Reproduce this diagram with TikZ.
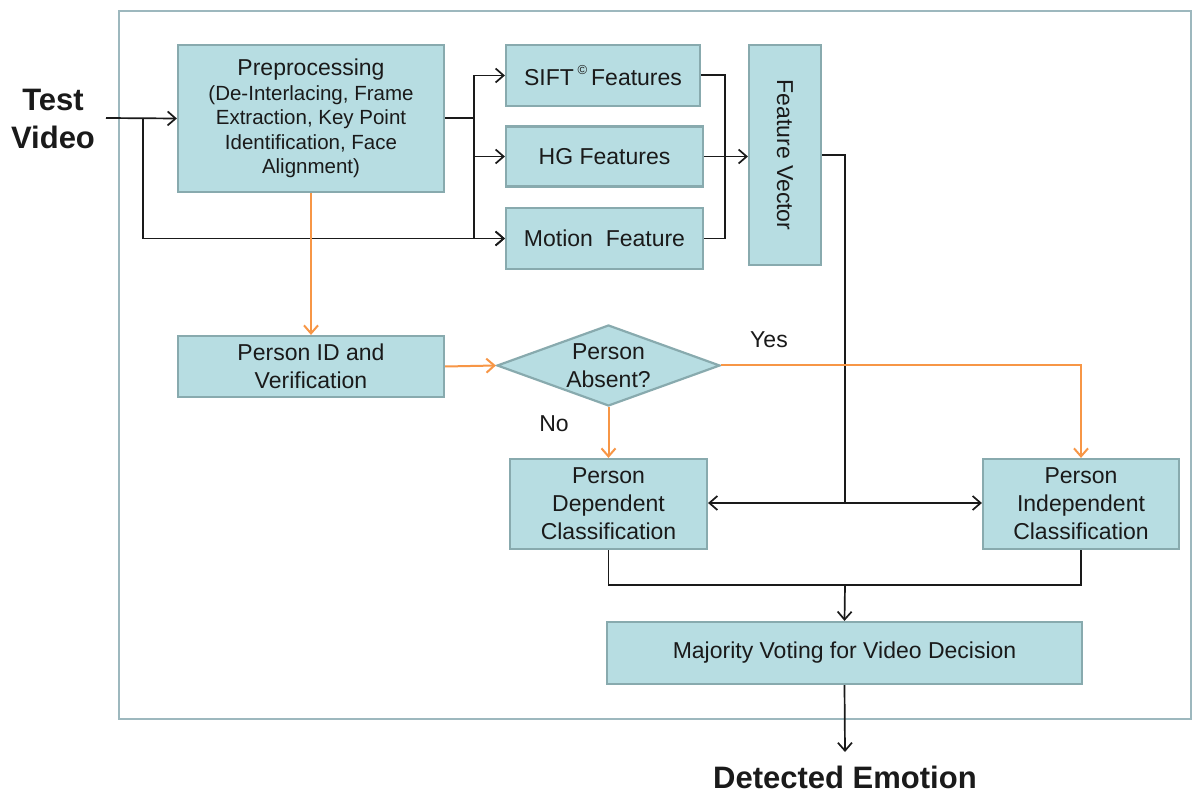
\documentclass[tikz,border=0pt]{standalone}
\usepackage{fontspec}
\setmainfont{Liberation Sans}
\usetikzlibrary{arrows.meta,shapes.geometric}
\definecolor{boxfill}{HTML}{B7DDE2}
\definecolor{boxline}{HTML}{88AAAE}
\definecolor{frameline}{HTML}{9DB8BE}
\definecolor{orng}{HTML}{F79646}
\definecolor{ink}{HTML}{1A1A1A}
\tikzset{
  blk/.style={draw=boxline, line width=2.2pt, fill=boxfill, inner sep=0pt, align=center, text=ink, font=\fontsize{23}{28}\selectfont},
  conn/.style={draw=ink, line width=1.7pt, -{Straight Barb[length=8pt,width=14pt,line width=1.7pt]}},
  wire/.style={draw=ink, line width=1.7pt},
  oconn/.style={draw=orng, line width=2pt, -{Straight Barb[length=8pt,width=14pt,line width=2pt]}},
  lbl/.style={font=\fontsize{23}{28}\selectfont, text=ink},
  big/.style={font=\bfseries\fontsize{31}{38}\selectfont, text=ink, align=center}
}
\begin{document}
\begin{tikzpicture}[x=1pt,y=-1pt]
\useasboundingbox (0,0) rectangle (1195,794);
\fill[white] (0,0) rectangle (1195,794);
\draw[frameline, line width=2.2pt] (119,11) rectangle (1191,719);
% nodes
\node[big] (tv) at (53,119) {Test\\Video};
\node[blk, minimum width=266pt, minimum height=147pt, font=\fontsize{20.5}{24.5}\selectfont] (pre) at (311,118.5) {{\fontsize{23}{24.5}\selectfont Preprocessing}\\(De-Interlacing, Frame\\Extraction, Key Point\\Identification, Face\\Alignment)};
\node[blk, minimum width=194pt, minimum height=61pt] (sift) at (603,75.5) {SIFT\,\raisebox{0.5em}{\fontsize{13}{13}\selectfont ©}\,Features};
\node[blk, minimum width=197pt, minimum height=60pt] (hg) at (604.5,156.5) {HG Features};
\node[blk, minimum width=197pt, minimum height=61pt] (mot) at (604.5,238.5) {Motion\ \ Feature};
\node[blk, minimum width=72pt, minimum height=220pt] (fv) at (785,155) {};
\node[lbl, rotate=-90] (fvt) at (785,155) {Feature Vector};
\node[blk, minimum width=266pt, minimum height=61pt] (pid) at (311,366.5) {Person ID and\\Verification};
\node[blk, diamond, aspect=2.75, minimum width=223pt, minimum height=81pt] (abs) at (608.5,365.5) {};
\node[lbl, align=center] (abst) at (608.5,366) {Person\\Absent?};
\node[blk, minimum width=197pt, minimum height=90pt] (pdc) at (608.5,504) {Person\\Dependent\\Classification};
\node[blk, minimum width=196pt, minimum height=90pt] (pic) at (1081,504) {Person\\Independent\\Classification};
\node[blk, minimum width=475pt, minimum height=62pt] (maj) at (844.5,653) {Majority Voting for Video Decision};
\node[big] (de) at (845,777) {Detected Emotion};
\node[lbl] (yes) at (769,340) {Yes};
\node[lbl] (no) at (554,424) {No};
% coordinates
\coordinate (in) at (106,118);
\coordinate (b1) at (143,118);
\coordinate (b2) at (474,118);
\coordinate (j1) at (725,75);
\coordinate (fvo) at (845,155);
\coordinate (mid) at (845,503);
\coordinate (bot) at (845,585);
\coordinate (out) at (845,752);
% connectors
\draw[conn] (in) -- (pre.west);
\draw[conn] (b1) |- (mot.west);
\draw[wire] (pre.east |- b2) -- (b2);
\draw[conn] (b2) |- (sift.west);
\draw[conn] (b2) |- (hg.west);
\draw[conn] (b2) |- (mot.west);
\draw[wire] (sift.east |- j1) -- (j1) |- (mot.east);
\draw[conn] (hg.east) -- (fv.west |- hg.east);
\draw[wire] (fv.east |- fvo) -- (fvo) -- (mid);
\draw[conn] (mid) -- (pdc.east |- mid);
\draw[conn] (mid) -- (pic.west |- mid);
\draw[oconn] (pre.south) -- (pid.north);
\draw[oconn] (pid.east) -- (abs.west);
\draw[oconn] (abs.east) -| (pic.north);
\draw[oconn] (abs.south) -- (pdc.north);
\draw[wire] (pdc.south) |- (bot) -| (pic.south);
\draw[conn] (bot) -- (maj.north);
\draw[conn] (maj.south) -- (out);
\end{tikzpicture}
\end{document}
